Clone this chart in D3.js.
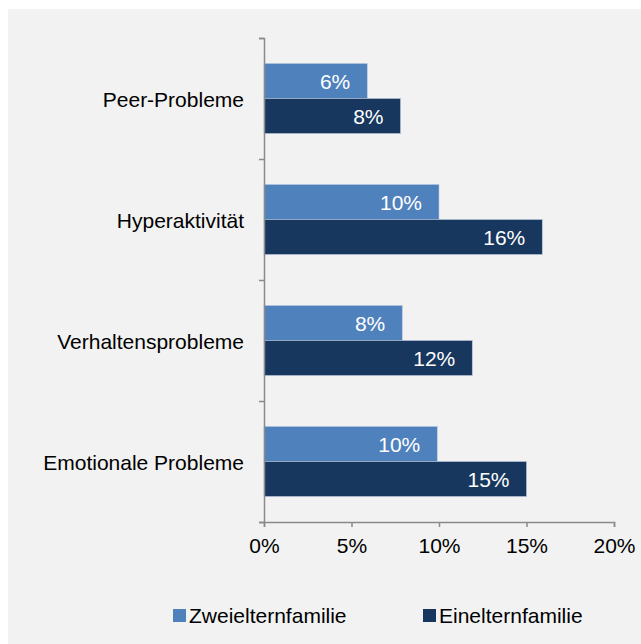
<!DOCTYPE html>
<html lang="de">
  <head>
    <meta charset="UTF-8"/>
    <title>Probleme nach Familienform</title>
    <script src="https://d3js.org/d3.v7.min.js"></script>
    <style>
        body {
          margin: 0;
          background: #fff;
        }
        text {
          font-family: "Liberation Sans", Arial, sans-serif;
          font-size: 21px;
        }
        .axis path,
        .axis line {
          fill: none;
          stroke: #8a8a8a;
          stroke-width: 1.5;
        }
        .axis text {
          fill: #000;
        }
        .value {
          fill: #fff;
        }
    </style>
  </head>
  <body>
    <script>
        const categories = ["Peer-Probleme", "Hyperaktivität", "Verhaltensprobleme", "Emotionale Probleme"]
        const seriesNames = ["Zweielternfamilie", "Einelternfamilie"]
        const zweieltern = [5.9, 10.0, 7.9, 9.9]
        const eineltern  = [7.8, 15.9, 11.9, 15.0]
        const valueLabels = [["6%", "10%", "8%", "10%"], ["8%", "16%", "12%", "15%"]]
        const xTicks = [0, 5, 10, 15, 20]
        const colors = ["#4f81bd", "#17375e"]

        const width = 641, height = 644
        const plot = {left: 264, right: 614, top: 38, bottom: 522}

        const rows = categories.map((c, i) => ({
          cat: c,
          values: [zweieltern[i], eineltern[i]],
          labels: [valueLabels[0][i], valueLabels[1][i]]
        }))

        const x = d3.scaleLinear().domain([0, 20]).range([plot.left, plot.right])
        const pad = 0.4215
        const y = d3.scaleBand().domain(categories).range([plot.top, plot.bottom])
            .paddingInner(pad).paddingOuter(pad / 2)
        const ySub = d3.scaleBand().domain([0, 1]).range([0, y.bandwidth()])
        // category boundaries for the left axis ticks
        const yEdge = d3.scaleLinear().domain([0, categories.length]).range([plot.top, plot.bottom])

        const svg = d3.select("body").append("svg")
            .attr("width", width)
            .attr("height", height)

        svg.append("rect")
            .attr("x", 8).attr("y", 9)
            .attr("width", width - 8).attr("height", height - 9)
            .attr("fill", "#f2f2f2")

        const groups = svg.selectAll("g.row")
            .data(rows)
            .join("g")
            .attr("class", "row")
            .attr("transform", d => `translate(0, ${y(d.cat)})`)

        groups.selectAll("rect")
            .data(d => d.values.map((v, s) => ({v, s, label: d.labels[s]})))
            .join("rect")
            .attr("x", x(0))
            .attr("y", d => ySub(d.s))
            .attr("width", d => x(d.v) - x(0))
            .attr("height", ySub.bandwidth())
            .attr("fill", d => colors[d.s])
            .attr("stroke", "#b8c6dc")
            .attr("stroke-width", 0.6)

        groups.selectAll("text.value")
            .data(d => d.values.map((v, s) => ({v, s, label: d.labels[s]})))
            .join("text")
            .attr("class", "value")
            .attr("text-anchor", "end")
            .attr("x", d => x(d.v) - 17)
            .attr("y", d => ySub(d.s) + ySub.bandwidth() / 2 + 8)
            .text(d => d.label)

        // category labels
        svg.selectAll("text.cat")
            .data(categories)
            .join("text")
            .attr("class", "cat")
            .attr("text-anchor", "end")
            .attr("x", 244)
            .attr("y", d => y(d) + y.bandwidth() / 2 + 8)
            .text(d => d)

        // x axis
        const xAxis = svg.append("g")
            .attr("class", "axis")
            .attr("transform", `translate(0, ${plot.bottom})`)
            .call(d3.axisBottom(x).tickValues(xTicks).tickFormat(d => d + "%").tickSize(5).tickPadding(11))
        xAxis.selectAll("text").attr("font-size", 21).attr("dy", "0.71em")

        // y axis with ticks between categories
        svg.append("g")
            .attr("class", "axis")
            .attr("transform", `translate(${plot.left}, 0)`)
            .call(d3.axisLeft(yEdge).ticks(categories.length).tickFormat("").tickSize(5).tickSizeOuter(5))

        // legend
        const legend = svg.append("g")
        const legendX = [173, 423]
        seriesNames.forEach((name, i) => {
          legend.append("rect")
              .attr("x", legendX[i]).attr("y", 609)
              .attr("width", 13).attr("height", 13)
              .attr("fill", colors[i])
          legend.append("text")
              .attr("x", legendX[i] + 16).attr("y", 623)
              .text(name)
        })
    </script>
  </body>
</html>
